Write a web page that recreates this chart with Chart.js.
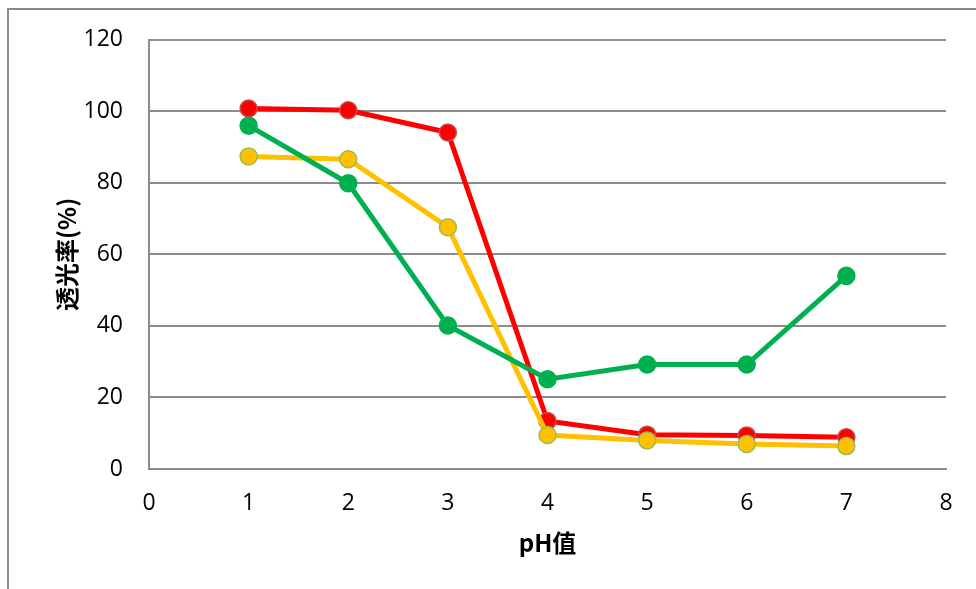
<!DOCTYPE html>
<html>
<head>
<meta charset="utf-8">
<script src="https://cdn.jsdelivr.net/npm/chart.js@4/dist/chart.umd.min.js"></script>
<style>
  html, body { margin: 0; padding: 0; background: #ffffff; }
  #wrap { position: relative; width: 976px; height: 589px; }
</style>
</head>
<body>
<div id="wrap"><canvas id="c" width="976" height="589"></canvas></div>
<script>
// pH values on the x axis
const phValues = [1, 2, 3, 4, 5, 6, 7];
// light transmittance (%) for each series
const redSeries = [100.8, 100.3, 94.1, 13.4, 9.6, 9.4, 8.9];
const yellowSeries = [87.4, 86.6, 67.6, 9.5, 8.0, 7.0, 6.4];
const greenSeries = [96.0, 79.9, 40.1, 25.1, 29.2, 29.2, 54.0];

const xTicks = [0, 1, 2, 3, 4, 5, 6, 7, 8];
const yTicks = [0, 20, 40, 60, 80, 100, 120];

const toPoints = (vals) => phValues.map((x, i) => ({ x: x, y: vals[i] }));

const fontFamily = "'Open Sans', 'Noto Sans CJK SC', sans-serif";
const titleFamily = "'Noto Sans CJK SC', 'Open Sans', sans-serif";

// frame around the chart
const framePlugin = {
  id: 'frame',
  beforeDraw(chart) {
    const ctx = chart.ctx;
    ctx.save();
    ctx.fillStyle = '#ffffff';
    ctx.fillRect(0, 0, chart.width, chart.height);
    ctx.strokeStyle = '#8a8a8a';
    ctx.lineWidth = 2;
    ctx.beginPath();
    ctx.moveTo(976, 9);
    ctx.lineTo(8, 9);
    ctx.lineTo(8, 589);
    ctx.stroke();
    ctx.restore();
  }
};

function series(label, vals, color, border, order) {
  return {
    label: label,
    data: toPoints(vals),
    borderColor: color,
    backgroundColor: color,
    borderWidth: 5,
    pointRadius: 8.5,
    pointHoverRadius: 8.5,
    pointBackgroundColor: color,
    pointBorderColor: border,
    pointBorderWidth: 1.5,
    tension: 0,
    order: order
  };
}

new Chart(document.getElementById('c'), {
  type: 'line',
  data: {
    datasets: [
      series('red', redSeries, '#ff0000', '#c0504d', 3),
      series('yellow', yellowSeries, '#ffc000', '#9bbb59', 2),
      series('green', greenSeries, '#00b050', '#00b050', 1)
    ]
  },
  options: {
    responsive: false,
    animation: false,
    devicePixelRatio: 1,
    layout: { padding: { left: 48, top: 36, right: 30, bottom: 28 } },
    plugins: {
      legend: { display: false },
      tooltip: { enabled: false }
    },
    scales: {
      x: {
        type: 'linear',
        min: 0,
        max: 8,
        afterBuildTicks(scale) { scale.ticks = xTicks.map(v => ({ value: v })); },
        afterFit(scale) { scale.height = 92; },
        grid: { display: false, drawTicks: false },
        border: { display: true, color: '#8c8c8c', width: 2 },
        ticks: {
          color: '#000000',
          font: { family: fontFamily, size: 23 },
          padding: 21,
          maxRotation: 0
        },
        title: {
          display: true,
          text: 'pH值',
          color: '#000000',
          font: { family: titleFamily, size: 24, weight: 'bold' },
          padding: { top: 4, bottom: 4 }
        }
      },
      y: {
        type: 'linear',
        min: 0,
        max: 120,
        afterBuildTicks(scale) { scale.ticks = yTicks.map(v => ({ value: v })); },
        afterFit(scale) { scale.width = 149 - 48; },
        grid: { color: '#8c8c8c', lineWidth: 2, drawTicks: false },
        border: { display: true, color: '#8c8c8c', width: 2 },
        ticks: {
          color: '#000000',
          font: { family: fontFamily, size: 23 },
          padding: 26
        },
        title: {
          display: true,
          text: '透光率(%)',
          color: '#000000',
          font: { family: titleFamily, size: 24, weight: 'bold' },
          padding: { top: 4, bottom: 4 }
        }
      }
    }
  },
  plugins: [framePlugin]
});
</script>
</body>
</html>
